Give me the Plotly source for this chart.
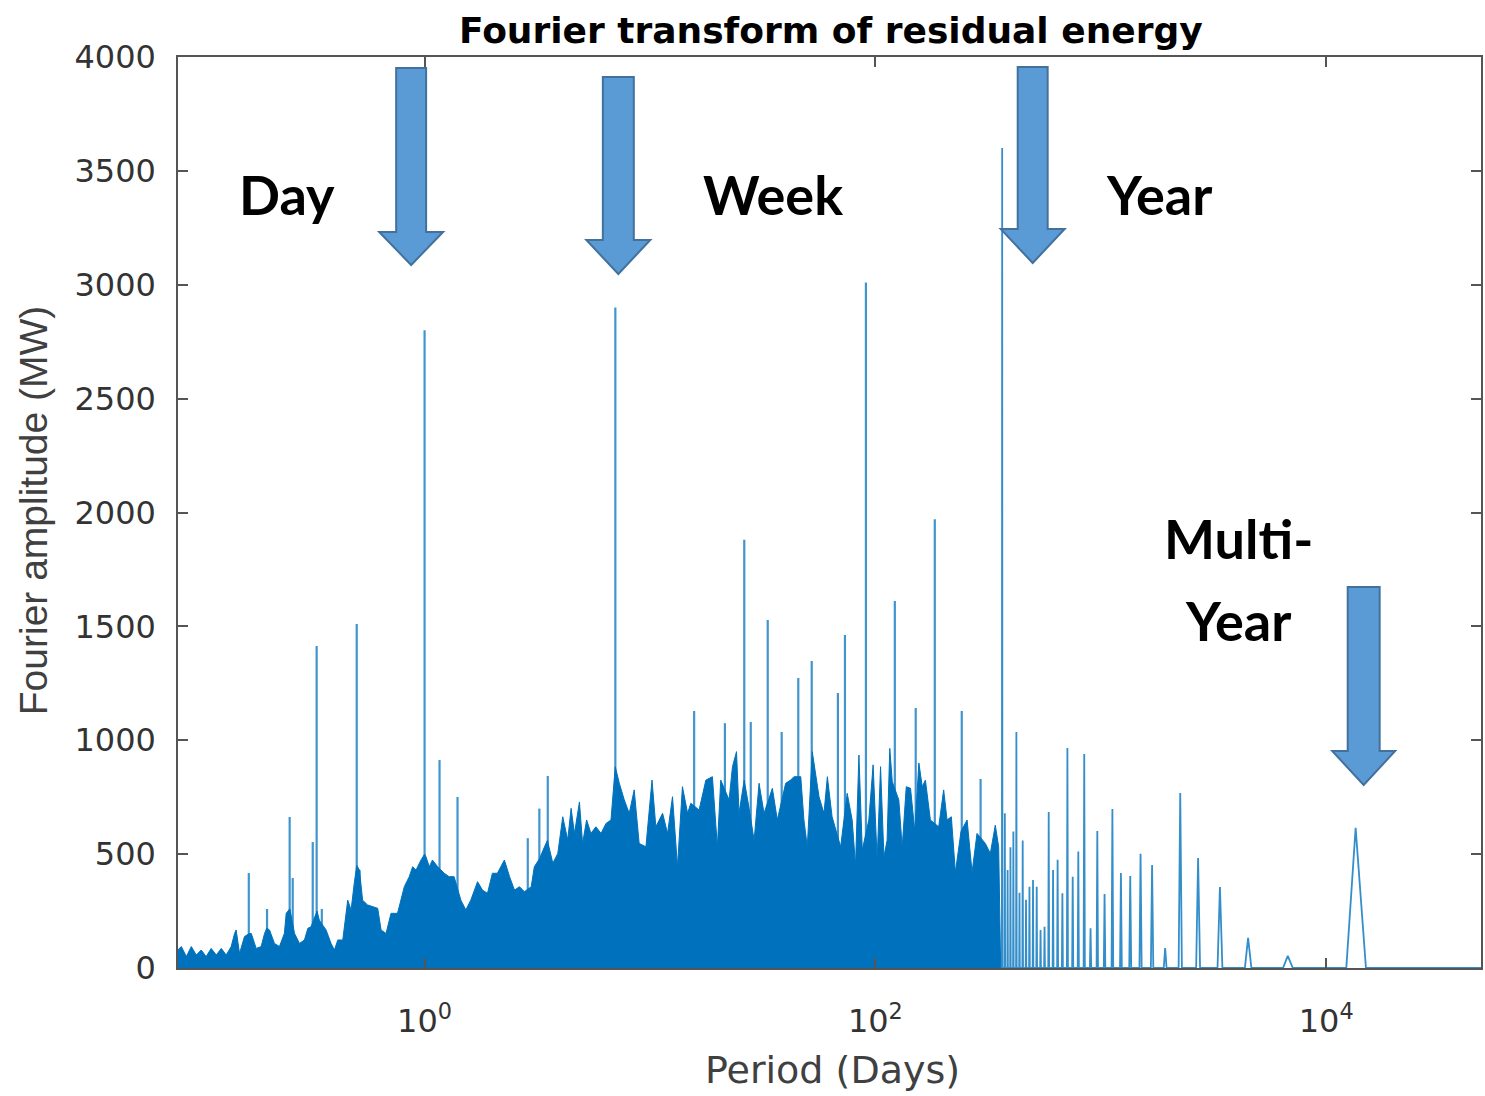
import numpy as np
import plotly.graph_objects as go

# Record length of the hourly residual-energy series (days, 37 years)
RECORD_DAYS = 13514

# Broadband part of the spectrum: upper envelope of the dense lines
env_log10_period = [
    -1.094, -1.079, -1.057, -1.035, -1.013, -0.991, -0.969, -0.947, -0.924, -0.902,
    -0.880, -0.858, -0.843, -0.836, -0.821, -0.799, -0.780, -0.769, -0.747, -0.725,
    -0.710, -0.700, -0.688, -0.666, -0.644, -0.622, -0.614, -0.598, -0.577, -0.555,
    -0.533, -0.518, -0.504, -0.477, -0.467, -0.437, -0.415, -0.400, -0.385, -0.363,
    -0.341, -0.326, -0.312, -0.301, -0.289, -0.275, -0.253, -0.230, -0.208, -0.193,
    -0.171, -0.149, -0.120, -0.090, -0.068, -0.053, -0.038, -0.016, 0.000, 0.006,
    0.021, 0.035, 0.058, 0.087, 0.109, 0.131, 0.161, 0.183, 0.205, 0.235,
    0.257, 0.279, 0.301, 0.323, 0.346, 0.354, 0.368, 0.377, 0.399, 0.421,
    0.443, 0.473, 0.487, 0.510, 0.532, 0.545, 0.569, 0.591, 0.613, 0.635,
    0.650, 0.665, 0.687, 0.701, 0.719, 0.738, 0.760, 0.783, 0.805, 0.827,
    0.846, 0.864, 0.886, 0.908, 0.930, 0.952, 0.982, 1.009, 1.026, 1.056,
    1.078, 1.100, 1.122, 1.144, 1.167, 1.181, 1.218, 1.248, 1.277, 1.299,
    1.314, 1.351, 1.366, 1.384, 1.395, 1.418, 1.440, 1.462, 1.484, 1.506,
    1.543, 1.565, 1.602, 1.624, 1.639, 1.669, 1.683, 1.698, 1.720, 1.750,
    1.772, 1.787, 1.808, 1.846, 1.875, 1.897, 1.912, 1.927, 1.942, 1.971,
    1.990, 2.008, 2.023, 2.038, 2.052, 2.064, 2.075, 2.104, 2.119, 2.137,
    2.156, 2.175, 2.193, 2.208, 2.222, 2.244, 2.281, 2.303, 2.318, 2.337,
    2.355, 2.380, 2.407, 2.429, 2.451, 2.488, 2.510, 2.532, 2.547, 2.556,
]
env_amp = [
    80, 94, 50, 94, 57, 79, 50, 86, 57, 86,
    57, 94, 152, 167, 64, 138, 150, 152, 86, 94,
    152, 175, 167, 108, 94, 152, 240, 260, 152, 108,
    123, 174, 181, 250, 210, 167, 108, 79, 123, 123,
    298, 255, 372, 450, 430, 298, 277, 269, 262, 167,
    152, 240, 240, 357, 401, 445, 430, 474, 500, 489,
    445, 474, 445, 416, 401, 401, 298, 255, 298, 379,
    342, 328, 416, 416, 460, 474, 430, 401, 342, 357,
    335, 357, 445, 480, 532, 560, 460, 503, 664, 562,
    701, 591, 729, 547, 650, 591, 620, 591, 635, 650,
    884, 811, 738, 679, 782, 547, 532, 825, 620, 679,
    591, 752, 445, 796, 679, 723, 694, 825, 840, 532,
    825, 738, 884, 950, 679, 825, 700, 560, 811, 679,
    789, 650, 811, 825, 840, 840, 650, 532, 950, 752,
    679, 840, 664, 532, 767, 650, 450, 935, 518, 650,
    892, 474, 884, 489, 560, 964, 818, 738, 530, 796,
    789, 600, 900, 796, 825, 650, 620, 782, 650, 664,
    420, 600, 650, 420, 591, 547, 503, 627, 532, 0,
]

# Low-order harmonics of the record length (k = record / period)
harmonic_k = [1, 2, 3, 4, 5, 6, 7, 8, 9, 10, 11, 12, 13, 14, 15, 16, 17, 18, 19,
              20, 21, 22, 23, 24, 25, 26, 27, 28, 29, 30, 31, 32, 33, 34, 35, 36, 37]
harmonic_amp = [615, 53, 132, 356, 483, 768, 88, 452, 502, 404, 417, 698, 325, 601,
                174, 940, 511, 401, 966, 328, 475, 430, 685, 181, 167, 357, 386, 357,
                300, 560, 330, 1036, 599, 530, 430, 680, 3600]

# Isolated narrow peaks standing above the broadband part (period in days)
peak_period = [0.166, 0.200, 0.252, 0.260, 0.319, 0.332, 0.350, 0.500, 0.515, 1.000,
               1.165, 1.40, 2.87, 3.23, 3.52, 7.02, 15.7, 21.5, 26.2, 28.0,
               33.3, 38.4, 45.5, 52.2, 68.2, 73.3, 90.8, 122.0, 151.0, 183.5,
               241.7, 293.0]
peak_amp = [417, 259, 663, 395, 553, 1414, 259, 1510, 430, 2800,
            913, 751, 570, 700, 843, 2900, 1128, 1075, 1880, 1080,
            1528, 1036, 1273, 1348, 1207, 1462, 3010, 1611, 1142, 1970,
            1128, 830]

# Axis settings
x_log_range = [-1.094, 4.687]
x_tick_vals = [1, 100, 10000]
x_tick_text = ["10<sup>0</sup>", "10<sup>2</sup>", "10<sup>4</sup>"]
y_tick_vals = [0, 500, 1000, 1500, 2000, 2500, 3000, 3500, 4000]

BLUE = "#0072BD"
W, H = 1485, 1096
L_M, R_M, T_M, B_M = 178, 2, 57, 128
PW, PH = W - L_M - R_M, H - T_M - B_M

fig = go.Figure()

# dense broadband spectrum
fig.add_trace(go.Scatter(
    x=10 ** np.array(env_log10_period), y=env_amp,
    mode="lines", fill="tozeroy", fillcolor=BLUE,
    line=dict(color=BLUE, width=1), hoverinfo="skip", showlegend=False))

# narrow peaks
px, py = [], []
for p, a in zip(peak_period, peak_amp):
    px += [p, p, None]
    py += [0, a, None]
fig.add_trace(go.Scatter(x=px, y=py, mode="lines",
                         line=dict(color="rgba(0,114,189,0.75)", width=2.2),
                         hoverinfo="skip", showlegend=False))

# harmonics of the record length, drawn as narrow triangular lines
half_width = 0.1
hx = [10 ** env_log10_period[-1]]
hy = [0]
for k, a in sorted(zip(harmonic_k, harmonic_amp), key=lambda t: -t[0]):
    hx += [RECORD_DAYS / (k + half_width), RECORD_DAYS / k, RECORD_DAYS / (k - half_width)]
    hy += [0, a, 0]
hx.append(10 ** x_log_range[1])
hy.append(0)
fig.add_trace(go.Scatter(x=hx, y=hy, mode="lines",
                         line=dict(color="rgba(0,114,189,0.8)", width=1.8),
                         hoverinfo="skip", showlegend=False))


def to_paper(xp, yp):
    return (xp - L_M) / PW, (H - B_M - yp) / PH


def arrow_path(cx, top, tip, shaft_w, head_w, head_h):
    pts = [(cx - shaft_w / 2, top), (cx + shaft_w / 2, top),
           (cx + shaft_w / 2, tip - head_h), (cx + head_w / 2, tip - head_h),
           (cx, tip), (cx - head_w / 2, tip - head_h), (cx - shaft_w / 2, tip - head_h)]
    pp = [to_paper(a, b) for a, b in pts]
    return "M " + " L ".join(f"{a:.5f},{b:.5f}" for a, b in pp) + " Z"


arrows = [
    (411.5, 68, 265, 30, 64, 33),
    (619, 77, 274, 31, 64, 34),
    (1034, 67, 263, 30, 64, 34),
    (1365.5, 587, 785, 32, 63, 34),
]
for ar in arrows:
    fig.add_shape(type="path", path=arrow_path(*ar), xref="paper", yref="paper",
                  fillcolor="#5B9BD5", line=dict(color="#41719C", width=2))

labels = [("Day", 287, 195), ("Week", 774, 195), ("Year", 1161, 195),
          ("Multi-", 1240, 538), ("Year", 1240, 620)]
for txt, lx, ly in labels:
    ax_, ay_ = to_paper(lx, ly)
    fig.add_annotation(x=ax_, y=ay_, xref="paper", yref="paper", text=f"<b>{txt}</b>",
                       showarrow=False, xanchor="center", yanchor="middle",
                       font=dict(family="Lato", size=54, color="#000000"))

tx, ty = to_paper(832, 30)
fig.add_annotation(x=tx, y=ty, xref="paper", yref="paper",
                   text="<b>Fourier transform of residual energy</b>",
                   showarrow=False, xanchor="center", yanchor="middle",
                   font=dict(family="DejaVu Sans", size=36, color="#000000"))

xt, yt = to_paper(834, 1070)
fig.add_annotation(x=xt, y=yt, xref="paper", yref="paper", text="Period (Days)",
                   showarrow=False, xanchor="center", yanchor="middle",
                   font=dict(family="DejaVu Sans", size=38, color="#404040"))
xt, yt = to_paper(33, 510)
fig.add_annotation(x=xt, y=yt, xref="paper", yref="paper", text="Fourier amplitude (MW)",
                   showarrow=False, xanchor="center", yanchor="middle", textangle=-90,
                   font=dict(family="Liberation Sans", size=39, color="#404040"))

axis_common = dict(showgrid=False, zeroline=False, showline=True, linecolor="#555555",
                   linewidth=1.5, mirror="ticks", ticks="inside", ticklen=10,
                   tickwidth=1.5, tickcolor="#555555")
fig.update_xaxes(type="log", range=x_log_range, tickvals=x_tick_vals,
                 ticktext=x_tick_text, ticklabelstandoff=24,
                 tickfont=dict(family="DejaVu Sans", size=32, color="#333333"),
                 **axis_common)
fig.update_yaxes(range=[0, 4000], tickvals=y_tick_vals, ticklabelstandoff=14,
                 tickfont=dict(family="DejaVu Sans", size=32, color="#333333"),
                 **axis_common)

fig.update_layout(width=W, height=H, margin=dict(l=L_M, r=R_M, t=T_M, b=B_M),
                  paper_bgcolor="white", plot_bgcolor="white")

fig.write_html("out.html")
